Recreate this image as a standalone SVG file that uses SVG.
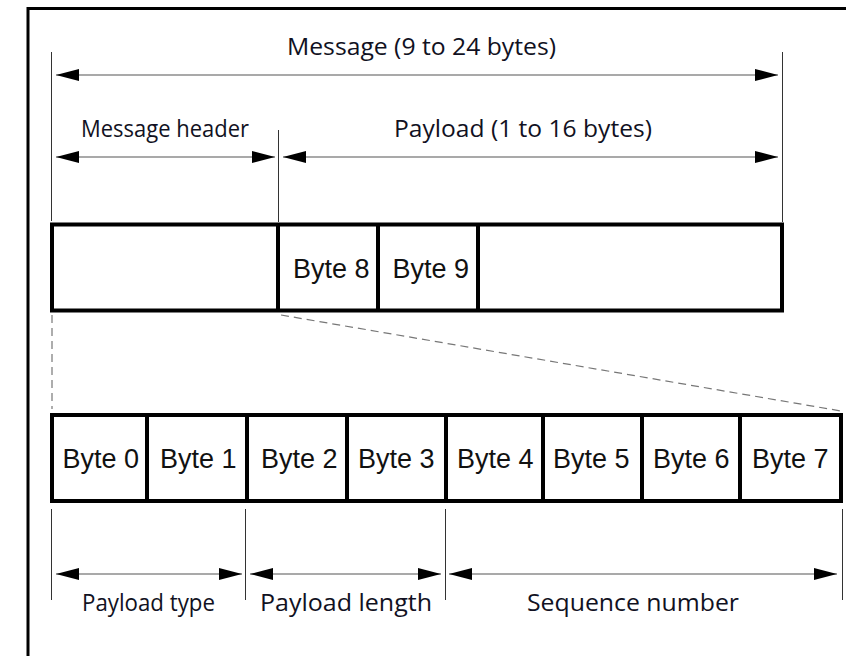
<svg xmlns="http://www.w3.org/2000/svg" width="846" height="656" viewBox="0 0 846 656">
<style>
.lbl{font-family:"Open Sans","Noto Sans",sans-serif;font-size:24px;fill:#111122}
.byte{font-family:"Liberation Sans",Arial,sans-serif;font-size:27px;fill:#111}
.cell{fill:#fff;stroke:#000;stroke-width:4}
.dim{stroke:#8c8c8c;stroke-width:1.6;fill:none;marker-start:url(#ah);marker-end:url(#ah)}
.ext{stroke:#333;stroke-width:1;fill:none}
.dash{stroke:#777;stroke-width:1.2;stroke-dasharray:8 5;fill:none}
</style>
<defs>
<marker id="ah" viewBox="0 0 23 12" refX="23" refY="6" markerWidth="23" markerHeight="12" markerUnits="userSpaceOnUse" orient="auto-start-reverse">
<path d="M0,0 L23,6 L0,12 z" fill="#000"/>
</marker>
</defs>
<rect x="0" y="0" width="846" height="656" fill="#fff"/>
<rect x="28" y="8.5" width="840" height="670" fill="none" stroke="#000" stroke-width="3"/>

<g id="connectors">
<line class="ext" x1="51.5" y1="52" x2="51.5" y2="221"/>
<line class="ext" x1="782.5" y1="52" x2="782.5" y2="222"/>
<line class="ext" x1="278.5" y1="130" x2="278.5" y2="222"/>
<line class="dim" x1="56" y1="75" x2="778" y2="75"/>
<line class="dim" x1="56" y1="157" x2="275" y2="157"/>
<line class="dim" x1="283" y1="157" x2="778" y2="157"/>
<line class="dash" x1="52" y1="315" x2="52" y2="409"/>
<line class="dash" x1="281" y1="315" x2="841" y2="411"/>
<line class="ext" x1="51.5" y1="509" x2="51.5" y2="600"/>
<line class="ext" x1="245.5" y1="509" x2="245.5" y2="600"/>
<line class="ext" x1="445.5" y1="509" x2="445.5" y2="600"/>
<line class="ext" x1="842.5" y1="509" x2="842.5" y2="600"/>
<line class="dim" x1="56" y1="574" x2="242" y2="574"/>
<line class="dim" x1="250" y1="574" x2="441" y2="574"/>
<line class="dim" x1="449" y1="574" x2="837" y2="574"/>
</g>

<g id="labels">
<text class="lbl" x="287" y="55" textLength="269" lengthAdjust="spacingAndGlyphs">Message (9 to 24 bytes)</text>
<text class="lbl" x="81" y="137" textLength="168" lengthAdjust="spacingAndGlyphs">Message header</text>
<text class="lbl" x="394" y="137" textLength="258" lengthAdjust="spacingAndGlyphs">Payload (1 to 16 bytes)</text>
<text class="lbl" x="82" y="611" textLength="133" lengthAdjust="spacingAndGlyphs">Payload type</text>
<text class="lbl" x="260" y="611" textLength="172" lengthAdjust="spacingAndGlyphs">Payload length</text>
<text class="lbl" x="527" y="611" textLength="212" lengthAdjust="spacingAndGlyphs">Sequence number</text>
</g>

<g id="message-row">
<rect class="cell" x="52" y="224.5" width="730" height="86"/>
<g id="header-cell"><line x1="278" y1="224.5" x2="278" y2="310.5" stroke="#000" stroke-width="4"/></g>
<g id="byte8"><line x1="378" y1="224.5" x2="378" y2="310.5" stroke="#000" stroke-width="4"/><text class="byte" x="293" y="278">Byte 8</text></g>
<g id="byte9"><line x1="478" y1="224.5" x2="478" y2="310.5" stroke="#000" stroke-width="4"/><text class="byte" x="392.5" y="278">Byte 9</text></g>
</g>

<g id="header-row">
<rect class="cell" x="52" y="415" width="789" height="86"/>
<g stroke="#000" stroke-width="4">
<line x1="147" y1="415" x2="147" y2="501"/>
<line x1="247" y1="415" x2="247" y2="501"/>
<line x1="347" y1="415" x2="347" y2="501"/>
<line x1="446" y1="415" x2="446" y2="501"/>
<line x1="543" y1="415" x2="543" y2="501"/>
<line x1="642" y1="415" x2="642" y2="501"/>
<line x1="740" y1="415" x2="740" y2="501"/>
</g>
<g id="byte0"><text class="byte" x="62.5" y="468">Byte 0</text></g>
<g id="byte1"><text class="byte" x="160" y="468">Byte 1</text></g>
<g id="byte2"><text class="byte" x="261" y="468">Byte 2</text></g>
<g id="byte3"><text class="byte" x="358" y="468">Byte 3</text></g>
<g id="byte4"><text class="byte" x="457" y="468">Byte 4</text></g>
<g id="byte5"><text class="byte" x="553" y="468">Byte 5</text></g>
<g id="byte6"><text class="byte" x="653" y="468">Byte 6</text></g>
<g id="byte7"><text class="byte" x="752" y="468">Byte 7</text></g>
</g>
</svg>
